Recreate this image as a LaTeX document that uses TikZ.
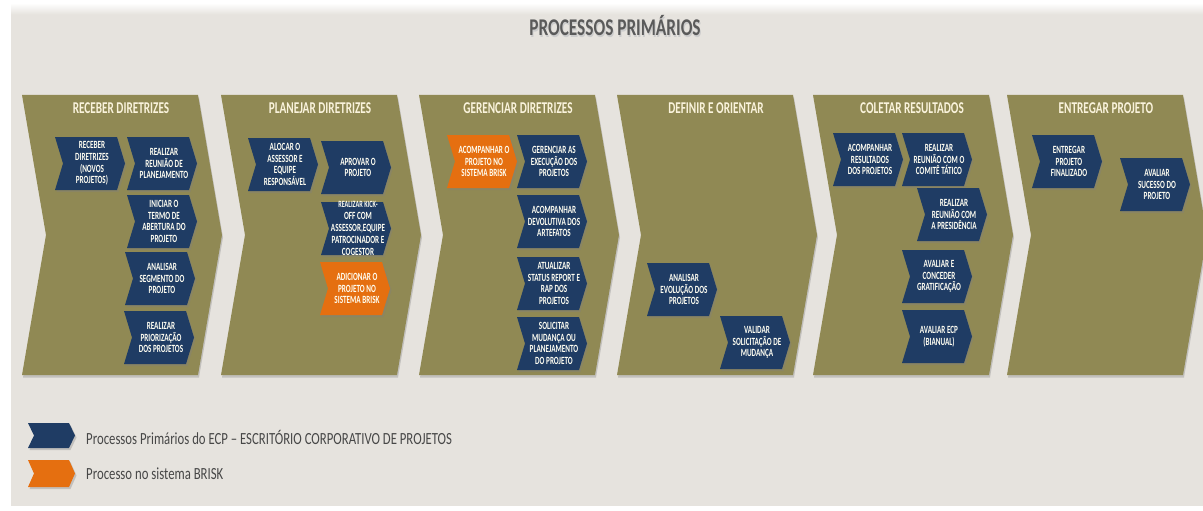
\documentclass[tikz,border=0pt]{standalone}
\usepackage{fontspec}
\setmainfont{Carlito}
\newfontfamily\condfont{Carlito}[FakeStretch=0.68]
\newfontfamily\boxfont{Carlito}[FakeStretch=0.65]
\newfontfamily\legfont{Carlito}[FakeStretch=0.75]
\newfontfamily\headfont{Carlito}[FakeStretch=0.72]
\usetikzlibrary{shadows}
\definecolor{bgc}{HTML}{E6E3DE}
\definecolor{olive}{HTML}{908954}
\definecolor{navy}{HTML}{1F3C64}
\definecolor{orng}{HTML}{E56F10}
\definecolor{cream}{HTML}{FAF3DC}
\definecolor{ttl}{HTML}{5A5A5A}
\tikzset{
  bigchev/.style={fill=olive, draw=none, drop shadow={shadow xshift=1pt, shadow yshift=-2.5pt, opacity=0.35}},
  boxshape/.style={draw=none, drop shadow={shadow xshift=1.5pt, shadow yshift=-2pt, opacity=0.35}},
  navyfill/.style={fill=navy},
  orangefill/.style={fill=orng},
  boxtext/.style={font=\boxfont\bfseries\fontsize{11}{11.8}\selectfont, text=white!95!yellow, align=center, inner sep=0pt},
  coltitle/.style={font=\condfont\bfseries\fontsize{16.5}{18}\selectfont, text=cream, inner sep=0pt},
  legtext/.style={font=\legfont\fontsize{17}{20}\selectfont, text=black!72, anchor=west, inner sep=0pt},
  maintitle/.style={font=\headfont\bfseries\fontsize{24}{28}\selectfont, text=ttl, inner sep=0pt},
}
\newcommand\pbox[5]{%
  \path[boxshape,#4] (#2,#3) -- ++(62,0) -- ++(8,26.5) -- ++(-8,26.5) -- ++(-62,0) -- ++(8,-26.5) -- cycle;
  \node[boxtext] (#1) at ({#2+37},{#3+26.5}) {#5};}
\newcommand\bigchev[3]{%
  \path[bigchev] (#2,95) -- ({#2+176},95) -- ({#2+200},235) -- ({#2+176},375) -- (#2,375) -- ({#2+24},235) -- cycle;
  \node[coltitle] (#1) at ({#2+99},108) {#3};}
\begin{document}
\begin{tikzpicture}[x=1pt,y=-1pt]
\useasboundingbox (0,0) rectangle (1203,511);
\fill[white] (0,0) rectangle (1203,511);
\fill[bgc] (11,14) rectangle (1203,506);
\shade[top color=white, bottom color=bgc] (11,3) rectangle (1203,14.5);
\node[maintitle,text=black!20] at (616,27.5) {PROCESSOS PRIMÁRIOS};
\node[maintitle] (title) at (615,26) {PROCESSOS PRIMÁRIOS};
% columns
\bigchev{t1}{22}{RECEBER DIRETRIZES}
\bigchev{t2}{221}{PLANEJAR DIRETRIZES}
\bigchev{t3}{419}{GERENCIAR DIRETRIZES}
\bigchev{t4}{617}{DEFINIR E ORIENTAR}
\bigchev{t5}{813}{COLETAR RESULTADOS}
\bigchev{t6}{1007}{ENTREGAR PROJETO}
% column 1
\pbox{r1}{55}{137}{navyfill}{RECEBER\\DIRETRIZES\\(NOVOS\\PROJETOS)}
\pbox{r2}{127}{137}{navyfill}{REALIZAR\\REUNIÃO DE\\PLANEJAMENTO}
\pbox{r3}{127}{195}{navyfill}{INICIAR O\\TERMO DE\\ABERTURA DO\\PROJETO}
\pbox{r4}{125}{252}{navyfill}{ANALISAR\\SEGMENTO DO\\PROJETO}
\pbox{r5}{124}{311}{navyfill}{REALIZAR\\PRIORIZAÇÃO\\DOS PROJETOS}
% column 2
\pbox{p1}{248}{138}{navyfill}{ALOCAR O\\ASSESSOR E\\EQUIPE\\RESPONSÁVEL}
\pbox{p2}{321}{141}{navyfill}{APROVAR O\\PROJETO}
\pbox{p3}{321}{202}{navyfill}{\fontsize{9.5}{10.4}\selectfont REALIZAR KICK-\\OFF COM\\ASSESSOR,EQUIPE\\PATROCINADOR E\\COGESTOR}
\pbox{p4}{320}{262}{orangefill}{ADICIONAR O\\PROJETO NO\\SISTEMA BRISK}
% column 3
\pbox{g1}{447}{135}{orangefill}{ACOMPANHAR O\\PROJETO NO\\SISTEMA BRISK}
\pbox{g2}{517}{135}{navyfill}{GERENCIAR AS\\EXECUÇÃO DOS\\PROJETOS}
\pbox{g3}{517}{195}{navyfill}{ACOMPANHAR\\DEVOLUTIVA DOS\\ARTEFATOS}
\pbox{g4}{517}{257}{navyfill}{ATUALIZAR\\STATUS REPORT E\\RAP DOS\\PROJETOS}
\pbox{g5}{517}{317}{navyfill}{SOLICITAR\\MUDANÇA OU\\PLANEJAMENTO\\DO PROJETO}
% column 4
\pbox{d1}{647}{263}{navyfill}{ANALISAR\\EVOLUÇÃO DOS\\PROJETOS}
\pbox{d2}{720}{316}{navyfill}{VALIDAR\\SOLICITAÇÃO DE\\MUDANÇA}
% column 5
\pbox{c1}{833}{133}{navyfill}{ACOMPANHAR\\RESULTADOS\\DOS PROJETOS}
\pbox{c2}{902}{133}{navyfill}{REALIZAR\\REUNIÃO COM O\\COMITÊ TÁTICO}
\pbox{c3}{917}{188}{navyfill}{REALIZAR\\REUNIÃO COM\\A PRESIDÊNCIA}
\pbox{c4}{902}{250}{navyfill}{AVALIAR E\\CONCEDER\\GRATIFICAÇÃO}
\pbox{c5}{902}{310}{navyfill}{AVALIAR ECP\\(BIANUAL)}
% column 6
\pbox{e1}{1032}{135}{navyfill}{ENTREGAR\\PROJETO\\FINALIZADO}
\pbox{e2}{1120}{158}{navyfill}{AVALIAR\\SUCESSO DO\\PROJETO}
% legend
\path[boxshape,navyfill] (28,423) -- (69,423) -- (75,435.5) -- (69,448) -- (28,448) -- (34,435.5) -- cycle;
\path[boxshape,orangefill] (28,460) -- (69,460) -- (75,473.5) -- (69,487) -- (28,487) -- (34,473.5) -- cycle;
\node[legtext] (leg1) at (86,437) {Processos Primários do ECP – ESCRITÓRIO CORPORATIVO DE PROJETOS};
\node[legtext] (leg2) at (86,474) {Processo no sistema BRISK};
\end{tikzpicture}
\end{document}
